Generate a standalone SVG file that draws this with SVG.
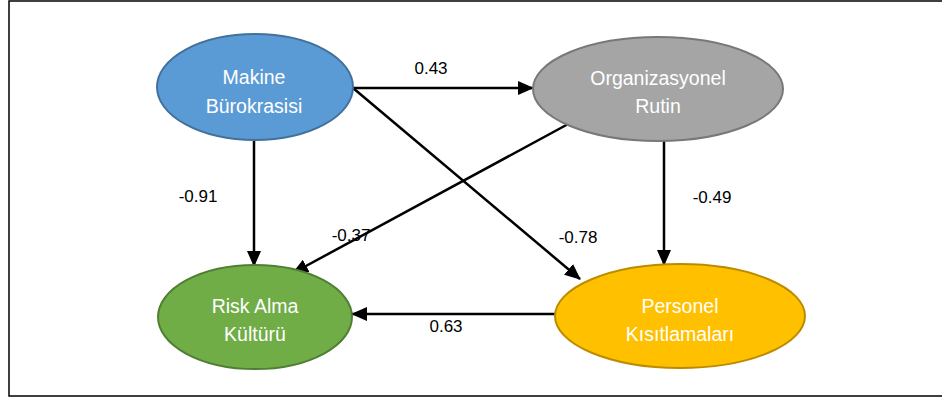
<svg xmlns="http://www.w3.org/2000/svg" width="942" height="398" viewBox="0 0 942 398">
<style>
.node-text{font-family:"Liberation Sans",Arial,sans-serif;font-size:19.5px;fill:#ffffff;text-anchor:middle}
.lbl{font-family:"Liberation Sans",Arial,sans-serif;font-size:17px;fill:#000000;text-anchor:middle}
.edge{stroke:#000000;stroke-width:2.5;fill:none;marker-end:url(#ah)}
</style>
<defs>
<marker id="ah" markerUnits="userSpaceOnUse" markerWidth="16" markerHeight="14" refX="15" refY="7" orient="auto">
<path d="M0,0 L16,7 L0,14 z" fill="#000000"/>
</marker>
</defs>
<rect x="0" y="0" width="942" height="398" fill="#ffffff"/>
<rect x="9" y="1" width="940" height="395" fill="none" stroke="#000000" stroke-width="1.5"/>
<g id="connectors">
<line class="edge" x1="353" y1="88" x2="533" y2="88"/>
<line class="edge" x1="353" y1="88" x2="580" y2="279"/>
<line class="edge" x1="570" y1="123" x2="293" y2="273"/>
<line class="edge" x1="254" y1="141" x2="254" y2="266"/>
<line class="edge" x1="664" y1="141" x2="664" y2="265"/>
<line class="edge" x1="555" y1="314" x2="352" y2="314"/>
<text class="lbl" x="431" y="74">0.43</text>
<text class="lbl" x="198" y="202">-0.91</text>
<text class="lbl" x="351" y="241">-0.37</text>
<text class="lbl" x="578" y="243">-0.78</text>
<text class="lbl" x="712" y="203">-0.49</text>
<text class="lbl" x="446" y="332">0.63</text>
</g>
<g id="makine">
<ellipse cx="255" cy="87" rx="98" ry="53" fill="#5B9BD5" stroke="#41719C" stroke-width="2"/>
<text class="node-text" x="254" y="84">Makine</text>
<text class="node-text" x="254" y="113">Bürokrasisi</text>
</g>
<g id="organizasyonel">
<ellipse cx="658" cy="89" rx="125" ry="52" fill="#A5A5A5" stroke="#787878" stroke-width="2"/>
<text class="node-text" x="658" y="85">Organizasyonel</text>
<text class="node-text" x="658" y="113">Rutin</text>
</g>
<g id="risk">
<ellipse cx="255" cy="317" rx="97" ry="52" fill="#70AD47" stroke="#507E32" stroke-width="2"/>
<text class="node-text" x="255" y="313">Risk Alma</text>
<text class="node-text" x="255" y="341">Kültürü</text>
</g>
<g id="personel">
<ellipse cx="680" cy="316" rx="125" ry="52" fill="#FFC000" stroke="#BC8C00" stroke-width="2"/>
<text class="node-text" x="680" y="313">Personel</text>
<text class="node-text" x="680" y="341">Kısıtlamaları</text>
</g>
</svg>
